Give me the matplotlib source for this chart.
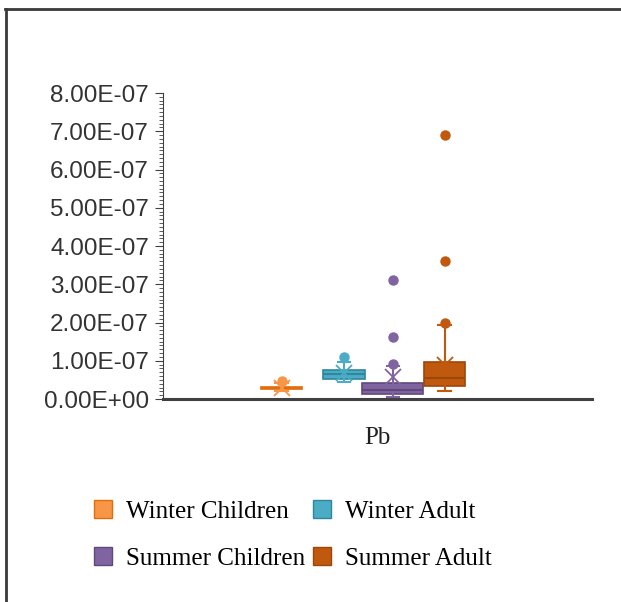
import numpy as np
import matplotlib.pyplot as plt
from matplotlib.patches import Patch
from matplotlib.lines import Line2D
from matplotlib.ticker import MultipleLocator, FuncFormatter

# Pb exposure summary statistics per group
groups = ['Winter Children', 'Winter Adult', 'Summer Children', 'Summer Adult']
q1 = [0.26e-7, 0.53e-7, 0.12e-7, 0.34e-7]
med = [0.28e-7, 0.66e-7, 0.24e-7, 0.55e-7]
q3 = [0.31e-7, 0.77e-7, 0.42e-7, 0.97e-7]
whislo = [0.20e-7, 0.45e-7, 0.05e-7, 0.20e-7]
whishi = [0.42e-7, 0.97e-7, 0.85e-7, 1.93e-7]
means = [0.29e-7, 0.68e-7, 0.57e-7, 0.88e-7]
fliers = [[0.47e-7], [1.10e-7], [0.92e-7, 1.63e-7, 3.10e-7], [2.00e-7, 3.60e-7, 6.90e-7]]
category = 'Pb'

colors = ['#F79646', '#4BACC6', '#8064A2', '#C0590E']
edges = ['#E46C0A', '#31859C', '#5F497A', '#9A470B']

pos = [0.277, 0.422, 0.536, 0.657]
widths = [0.096, 0.098, 0.142, 0.096]

fig = plt.figure(figsize=(6.21, 6.02), dpi=100)
ax = fig.add_axes([0.2625, 0.3372, 0.6908, 0.5083])

stats = []
for i, g in enumerate(groups):
    stats.append(dict(label=g, q1=q1[i], med=med[i], q3=q3[i], whislo=whislo[i],
                      whishi=whishi[i], mean=means[i], fliers=np.array(fliers[i])))

for i in range(len(groups)):
    ax.bxp([stats[i]], positions=[pos[i]], widths=widths[i], capwidths=0.03,
           patch_artist=True, showmeans=True, manage_ticks=False,
           boxprops=dict(facecolor=colors[i], edgecolor=edges[i], linewidth=1.2),
           medianprops=dict(color=edges[i], linewidth=1.5),
           whiskerprops=dict(color=colors[i], linewidth=1.5),
           capprops=dict(color=colors[i], linewidth=1.5),
           meanprops=dict(marker='x', markeredgecolor=colors[i], markersize=11,
                          markeredgewidth=1.3),
           flierprops=dict(marker='o', markerfacecolor=colors[i], markeredgecolor=colors[i],
                           markersize=6.5))

ax.set_xlim(0, 1)
ax.set_ylim(0, 8e-7)
ax.yaxis.set_major_locator(MultipleLocator(1e-7))
ax.yaxis.set_minor_locator(MultipleLocator(1e-8))
ax.yaxis.set_major_formatter(FuncFormatter(lambda v, p: f'{v:.2E}'))
ax.tick_params(axis='y', which='major', length=6, width=0.8, color='#404040',
               labelsize=17.5, labelcolor='#333333', pad=4)
ax.tick_params(axis='y', which='minor', length=3, width=0.6, color='#404040')
for lbl in ax.get_yticklabels():
    lbl.set_family('Liberation Sans')

ax.set_xticks([0.5])
ax.set_xticklabels([category], family=['Liberation Serif', 'DejaVu Serif'],
                   fontsize=18, color='#202020')
ax.tick_params(axis='x', length=0, pad=20)

for s in ['top', 'right']:
    ax.spines[s].set_visible(False)
ax.spines['left'].set_color('#404040')
ax.spines['left'].set_linewidth(0.8)
ax.spines['bottom'].set_color('#404040')
ax.spines['bottom'].set_linewidth(2.2)

handles = [Patch(facecolor=colors[i], edgecolor=edges[i], label=groups[i]) for i in [0, 2, 1, 3]]
fig.legend(handles=handles, ncol=2, loc='upper left', bbox_to_anchor=(0.135, 0.186),
           frameon=False, prop=dict(family='Liberation Serif', size=18),
           handlelength=0.72, handleheight=0.72, handletextpad=0.55,
           columnspacing=0.35, labelspacing=0.98, borderaxespad=0)

# outer frame lines
fig.add_artist(Line2D([0.008, 1.0], [0.985, 0.985], transform=fig.transFigure,
                      color='#3a3a3a', linewidth=2.0))
fig.add_artist(Line2D([0.010, 0.010], [0.0, 0.985], transform=fig.transFigure,
                      color='#3a3a3a', linewidth=2.0))

fig.savefig('out.png', dpi=100)
